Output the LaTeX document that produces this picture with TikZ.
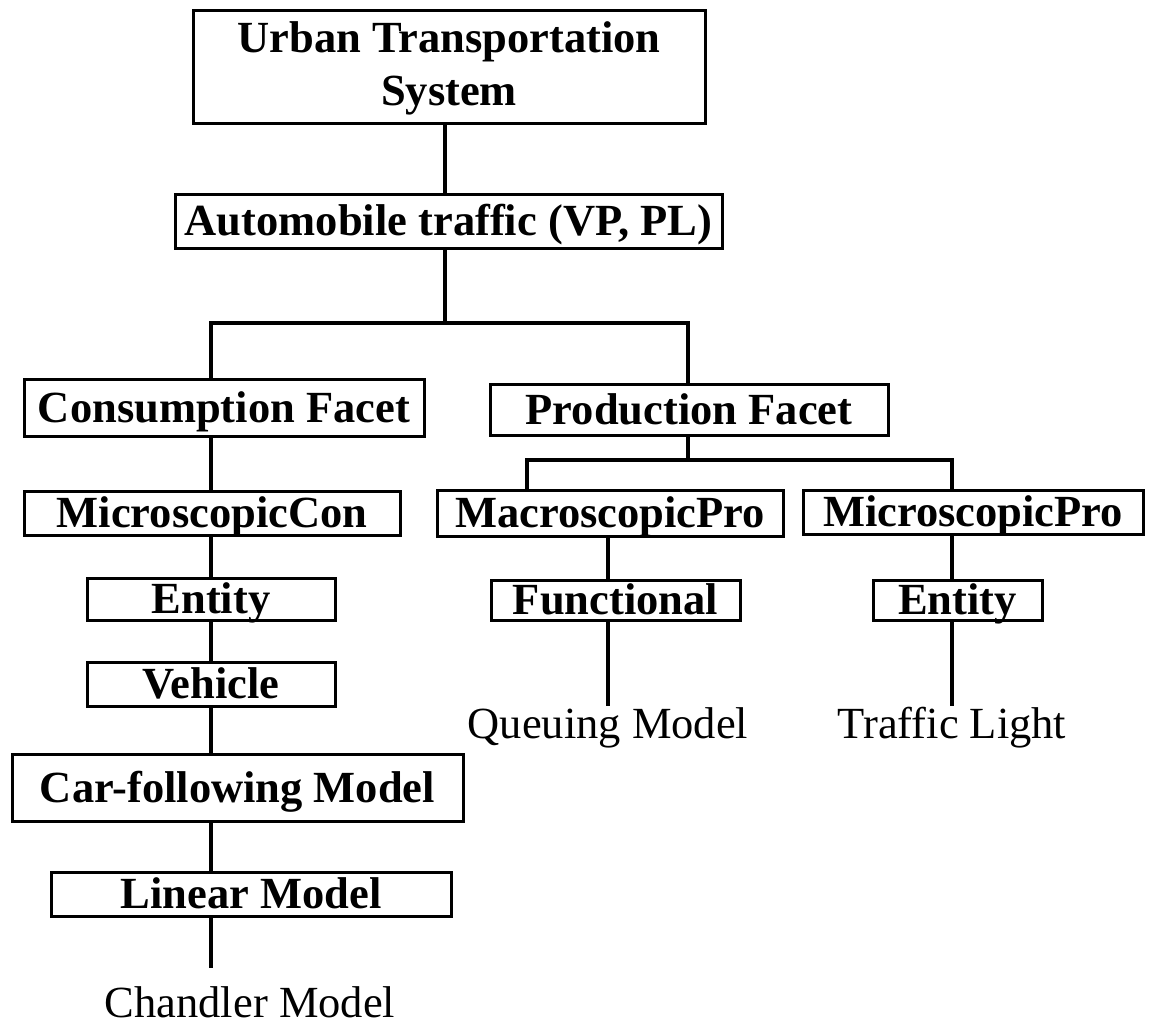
\documentclass[tikz,border=0pt]{standalone}
\usepackage{fontspec}
\setmainfont{Liberation Serif}
\begin{document}
\begin{tikzpicture}[x=1pt,y=-1pt,
  box/.style={draw, line width=3pt, inner sep=0pt, font=\fontsize{44.5pt}{53pt}\selectfont\bfseries, text height=29.5pt, text depth=0pt, align=center},
  leaf/.style={inner sep=0pt, font=\fontsize{44.5pt}{53pt}\selectfont, anchor=base},
  conn/.style={line width=3.5pt}]
\useasboundingbox (0,0) rectangle (1150,1028);
% boxes
\node[box, minimum width=512, minimum height=113, text height=78pt] (urban) at (449,66.5) {Urban Transportation\\System};
\node[box, minimum width=547, minimum height=54] (auto) at (448.5,221) {Automobile traffic (VP, PL)};
\node[box, minimum width=400, minimum height=57] (cons) at (224,407.5) {Consumption Facet};
\node[box, minimum width=398, minimum height=51] (prod) at (689,410) {Production Facet};
\node[box, minimum width=376, minimum height=44] (mcon) at (212,513) {MicroscopicCon};
\node[box, minimum width=346, minimum height=46] (macro) at (610,513) {MacroscopicPro};
\node[box, minimum width=340, minimum height=44] (mpro) at (973,512) {MicroscopicPro};
\node[box, minimum width=248, minimum height=42] (ent1) at (211,599) {Entity};
\node[box, minimum width=249, minimum height=40] (func) at (615.5,600) {Functional};
\node[box, minimum width=169, minimum height=40] (ent2) at (957.5,600) {Entity};
\node[box, minimum width=248, minimum height=44] (veh) at (211,684) {Vehicle};
\node[box, minimum width=451, minimum height=67] (car) at (237.5,787.5) {Car-following Model};
\node[box, minimum width=400, minimum height=44] (lin) at (251,894) {Linear Model};
% leaf texts
\node[leaf] (queue) at (608,738) {Queuing Model};
\node[leaf] (light) at (952,738) {Traffic Light};
\node[leaf] (chand) at (250,1017) {Chandler Model};
% junction coordinates
\coordinate (j1) at (445,323);
\coordinate (j1L) at (211,323);
\coordinate (j1R) at (688,323);
\coordinate (j2) at (688,460);
\coordinate (j2L) at (527,460);
\coordinate (j2R) at (952,460);
\coordinate (endC) at (211,968);
\coordinate (endQ) at (608,706);
\coordinate (endT) at (952,706);
% connectors
\draw[conn] (urban.south -| j1) -- (auto.north -| j1);
\draw[conn] (auto.south -| j1) -- (j1);
\draw[conn] (cons.north -| j1L) -- (j1L) -- (j1R) -- (prod.north -| j1R);
\draw[conn] (prod.south -| j2) -- (j2);
\draw[conn] (macro.north -| j2L) -- (j2L) -- (j2R) -- (mpro.north -| j2R);
\draw[conn] (cons.south -| j1L) -- (mcon.north -| j1L);
\draw[conn] (mcon.south -| j1L) -- (ent1.north -| j1L);
\draw[conn] (ent1.south -| j1L) -- (veh.north -| j1L);
\draw[conn] (veh.south -| j1L) -- (car.north -| j1L);
\draw[conn] (car.south -| j1L) -- (lin.north -| j1L);
\draw[conn] (lin.south -| endC) -- (endC);
\draw[conn] (macro.south -| endQ) -- (func.north -| endQ);
\draw[conn] (func.south -| endQ) -- (endQ);
\draw[conn] (mpro.south -| endT) -- (ent2.north -| endT);
\draw[conn] (ent2.south -| endT) -- (endT);
\end{tikzpicture}
\end{document}
